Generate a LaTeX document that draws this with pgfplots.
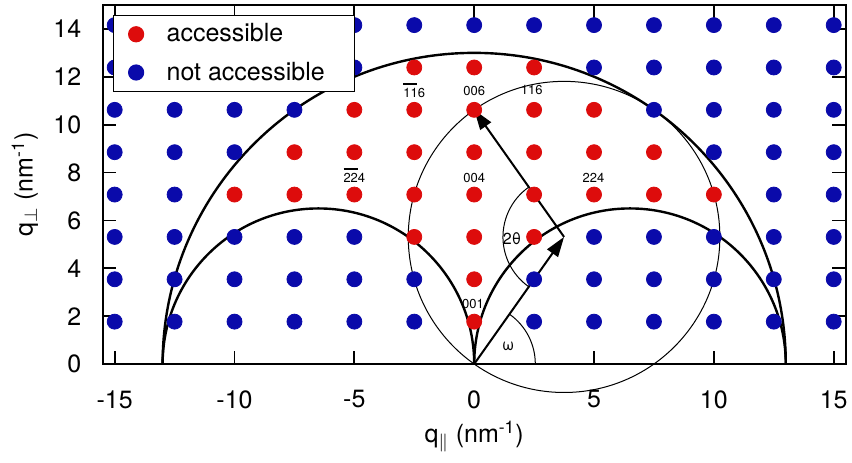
\documentclass[border=0pt]{standalone}
\usepackage{fontspec}
\setmainfont{TeX Gyre Heros}
\usepackage{pgfplots}
\usepackage{pgfplotstable}
\pgfplotsset{compat=1.18}
\usetikzlibrary{arrows.meta}
\definecolor{accred}{RGB}{221,12,12}
\definecolor{accblue}{RGB}{10,10,170}
\newcommand\barred[1]{\smash{\rlap{\rule[6.5pt]{7pt}{0.9pt}}}#1}

\pgfplotstableread{
x y
0 1.77
0 3.54
-2.5 5.31
0 5.31
2.5 5.31
-10 7.08
-7.5 7.08
-5 7.08
-2.5 7.08
0 7.08
2.5 7.08
5 7.08
7.5 7.08
10 7.08
-7.5 8.85
-5 8.85
-2.5 8.85
0 8.85
2.5 8.85
5 8.85
7.5 8.85
-5 10.62
-2.5 10.62
0 10.62
2.5 10.62
5 10.62
-2.5 12.39
0 12.39
2.5 12.39
}\redpts

\pgfplotstableread{
x y
-15 1.77
-12.5 1.77
-10 1.77
-7.5 1.77
-5 1.77
-2.5 1.77
2.5 1.77
5 1.77
7.5 1.77
10 1.77
12.5 1.77
15 1.77
-15 3.54
-12.5 3.54
-10 3.54
-7.5 3.54
-5 3.54
-2.5 3.54
2.5 3.54
5 3.54
7.5 3.54
10 3.54
12.5 3.54
15 3.54
-15 5.31
-12.5 5.31
-10 5.31
-7.5 5.31
-5 5.31
5 5.31
7.5 5.31
10 5.31
12.5 5.31
15 5.31
-15 7.08
-12.5 7.08
12.5 7.08
15 7.08
-15 8.85
-12.5 8.85
-10 8.85
10 8.85
12.5 8.85
15 8.85
-15 10.62
-12.5 10.62
-10 10.62
-7.5 10.62
7.5 10.62
10 10.62
12.5 10.62
15 10.62
-15 12.39
-12.5 12.39
-10 12.39
-7.5 12.39
-5 12.39
5 12.39
7.5 12.39
10 12.39
12.5 12.39
15 12.39
-15 14.16
-12.5 14.16
-10 14.16
-7.5 14.16
-5 14.16
-2.5 14.16
0 14.16
2.5 14.16
5 14.16
7.5 14.16
10 14.16
12.5 14.16
15 14.16
}\bluepts

\begin{document}
\begin{tikzpicture}
\begin{axis}[
  scale only axis, width=371.5pt, height=179.5pt,
  xmin=-15.5, xmax=15.5, ymin=0, ymax=15,
  xtick={-15,-10,...,15}, ytick={0,2,...,14},
  tick align=inside, tick pos=both, major tick length=6.75pt,
  tick style={line width=0.9pt, black},
  axis line style={line width=0.9pt},
  /pgf/number format/assume math mode=true,
  tick label style={font=\fontsize{12.5}{15}\selectfont},
  xticklabel shift=9.7pt, yticklabel shift=7.2pt,
  xlabel={q$_{\parallel}$ (nm\textsuperscript{-1})},
  ylabel={q$_{\perp}$ (nm\textsuperscript{-1})},
  label style={font=\fontsize{12.5}{15}\selectfont},
  xlabel style={at={(axis description cs:0.5,-0.2033)}, anchor=center},
  ylabel style={at={(axis description cs:-0.1047,0.5)}, anchor=center},
  clip=false,
  legend style={at={(axis description cs:0.0135,0.972)}, anchor=north west,
    draw=black, line width=0.6pt, fill=white,
    font=\fontsize{12.5}{15}\selectfont, row sep=4.5pt},
  legend cell align=left,
  legend image code/.code={%
    \path[draw=none, fill=none] (-8.4pt,0pt) -- (13.25pt,0pt);
    \draw plot coordinates {(0pt,0pt)};},
]
\addplot[only marks, mark=*, mark size=3.75pt, color=accred, mark options={draw=accred, fill=accred}] table[x=x,y=y] {\redpts};
\addlegendentry{accessible}
\addplot[only marks, mark=*, mark size=3.75pt, color=accblue, mark options={draw=accblue, fill=accblue}] table[x=x,y=y] {\bluepts};
\addlegendentry{not accessible\hspace*{10pt}\rule[-2pt]{0pt}{1pt}}

\draw[line width=1.2pt] (axis cs:13,0) arc[start angle=0, end angle=180, radius=13];
\draw[line width=1.2pt] (axis cs:0,0) arc[start angle=0, end angle=180, radius=6.5];
\draw[line width=1.2pt] (axis cs:13,0) arc[start angle=0, end angle=180, radius=6.5];
\draw[line width=0.5pt] (axis cs:3.75,5.31) circle[radius=6.5];
\draw[line width=1pt, -{Triangle[length=10pt,width=6.5pt]}] (axis cs:0,0) -- (axis cs:3.75,5.31);
\draw[line width=1pt, -{Triangle[length=10pt,width=6.5pt]}] (axis cs:3.75,5.31) -- (axis cs:0,10.62);
\draw[line width=0.5pt] (axis cs:2.55,0) arc[start angle=0, end angle=54.77, radius=2.55];
\draw[line width=0.5pt] (axis cs:2.279,7.393) arc[start angle=125.23, end angle=234.77, radius=2.55];

\begin{scope}[every node/.style={font=\fontsize{6.5}{8}\selectfont, inner sep=0pt}]
\node at (axis cs:0,11.4) {006};
\node at (axis cs:2.4,11.43) {116};
\node at (axis cs:-2.5,11.32) {\barred{11}6};
\node at (axis cs:0,7.76) {004};
\node at (axis cs:4.98,7.76) {224};
\node at (axis cs:-5,7.76) {\barred{22}4};
\node at (axis cs:-0.05,2.5) {001};
\end{scope}
\node[font=\fontsize{8}{9}\selectfont, inner sep=0pt] at (axis cs:1.58,5.23) {2θ};
\node[font=\fontsize{8}{9}\selectfont, inner sep=0pt] at (axis cs:1.42,0.72) {ω};
\end{axis}
\pgfresetboundingbox
\path[use as bounding box] ([xshift=-51.35pt,yshift=-49pt]current axis.south west) rectangle ([xshift=3.15pt,yshift=2.5pt]current axis.north east);
\end{tikzpicture}
\end{document}
